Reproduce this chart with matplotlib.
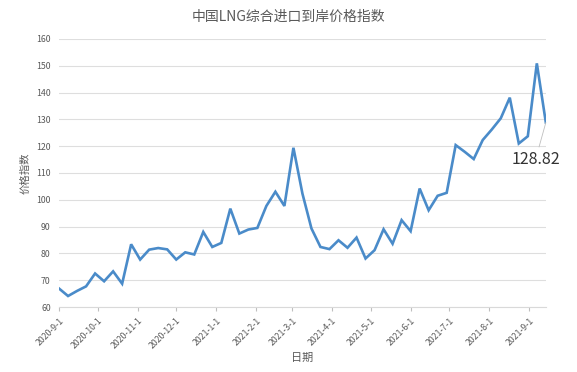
import datetime as dt
import matplotlib
matplotlib.use("Agg")
import matplotlib.pyplot as plt
import matplotlib.dates as mdates
from matplotlib.ticker import FuncFormatter

plt.rcParams['font.family'] = ['Noto Sans CJK SC', 'DejaVu Sans']

# weekly index values
start = dt.date(2020, 9, 1)
values = [66.9, 64.1, 66.0, 67.7, 72.5, 69.6, 73.3, 68.7, 83.4, 77.7,
          81.4, 82.0, 81.5, 77.7, 80.4, 79.6, 88.0, 82.4, 83.9, 96.7,
          87.4, 88.9, 89.5, 97.7, 103.0, 97.7, 119.4, 102.3, 89.3, 82.4,
          81.6, 84.9, 82.1, 85.9, 78.1, 81.2, 89.0, 83.6, 92.4, 88.3,
          104.2, 96.1, 101.5, 102.6, 120.4, 117.9, 115.2, 122.3, 126.2, 130.4,
          138.1, 121.0, 123.7, 150.9, 128.82]
dates = [start + dt.timedelta(days=7 * i) for i in range(len(values))]
tick_dates = [dt.date(2020, m, 1) for m in range(9, 13)] + [dt.date(2021, m, 1) for m in range(1, 10)]
y_ticks = list(range(60, 161, 10))

gray = '#595959'
fig = plt.figure(figsize=(5.77, 3.72), dpi=100)
ax = fig.add_axes([0.1023, 0.1747, 0.8437, 0.7206])

ax.plot(dates, values, color='#4a8bc9', lw=1.9, solid_joinstyle='miter')
ax.set_xlim(dates[0], dates[-1])
ax.set_ylim(60, 160)
ax.set_yticks(y_ticks)
ax.set_xticks(tick_dates)
ax.xaxis.set_major_formatter(FuncFormatter(
    lambda v, p: (lambda d: f"{d.year}-{d.month}-{d.day}")(mdates.num2date(v))))

ax.grid(axis='y', color='#dedede', lw=0.8)
ax.set_axisbelow(True)
for s in ['top', 'right', 'left']:
    ax.spines[s].set_visible(False)
ax.spines['bottom'].set_color('#d9d9d9')
ax.tick_params(axis='y', length=0, labelsize=6.3, labelcolor=gray, pad=6)
ax.tick_params(axis='x', length=3, color='#bfbfbf', labelsize=6.3, labelcolor=gray)
for lab in ax.get_xticklabels():
    lab.set_rotation(45)
    lab.set_ha('right')
    lab.set_rotation_mode('anchor')

ax.set_ylabel('价格指数', fontsize=7.5, color=gray, labelpad=4)
fig.text(0.524, 0.038, '日期', fontsize=8, color=gray, ha='center', va='center')
fig.text(0.5, 0.955, '中国LNG综合进口到岸价格指数', fontsize=10, color=gray, ha='center', va='center')

# label for the last point
ax.annotate(f"{values[-1]:.2f}", xy=(dates[-1], values[-1]),
            xytext=(dates[-1] - dt.timedelta(days=8), 115.0),
            fontsize=11.5, color='#333333', ha='center', va='center',
            annotation_clip=False,
            arrowprops=dict(arrowstyle='-', color='#bfbfbf', lw=0.6, shrinkA=1, shrinkB=0))

fig.savefig('out.png', dpi=100)
